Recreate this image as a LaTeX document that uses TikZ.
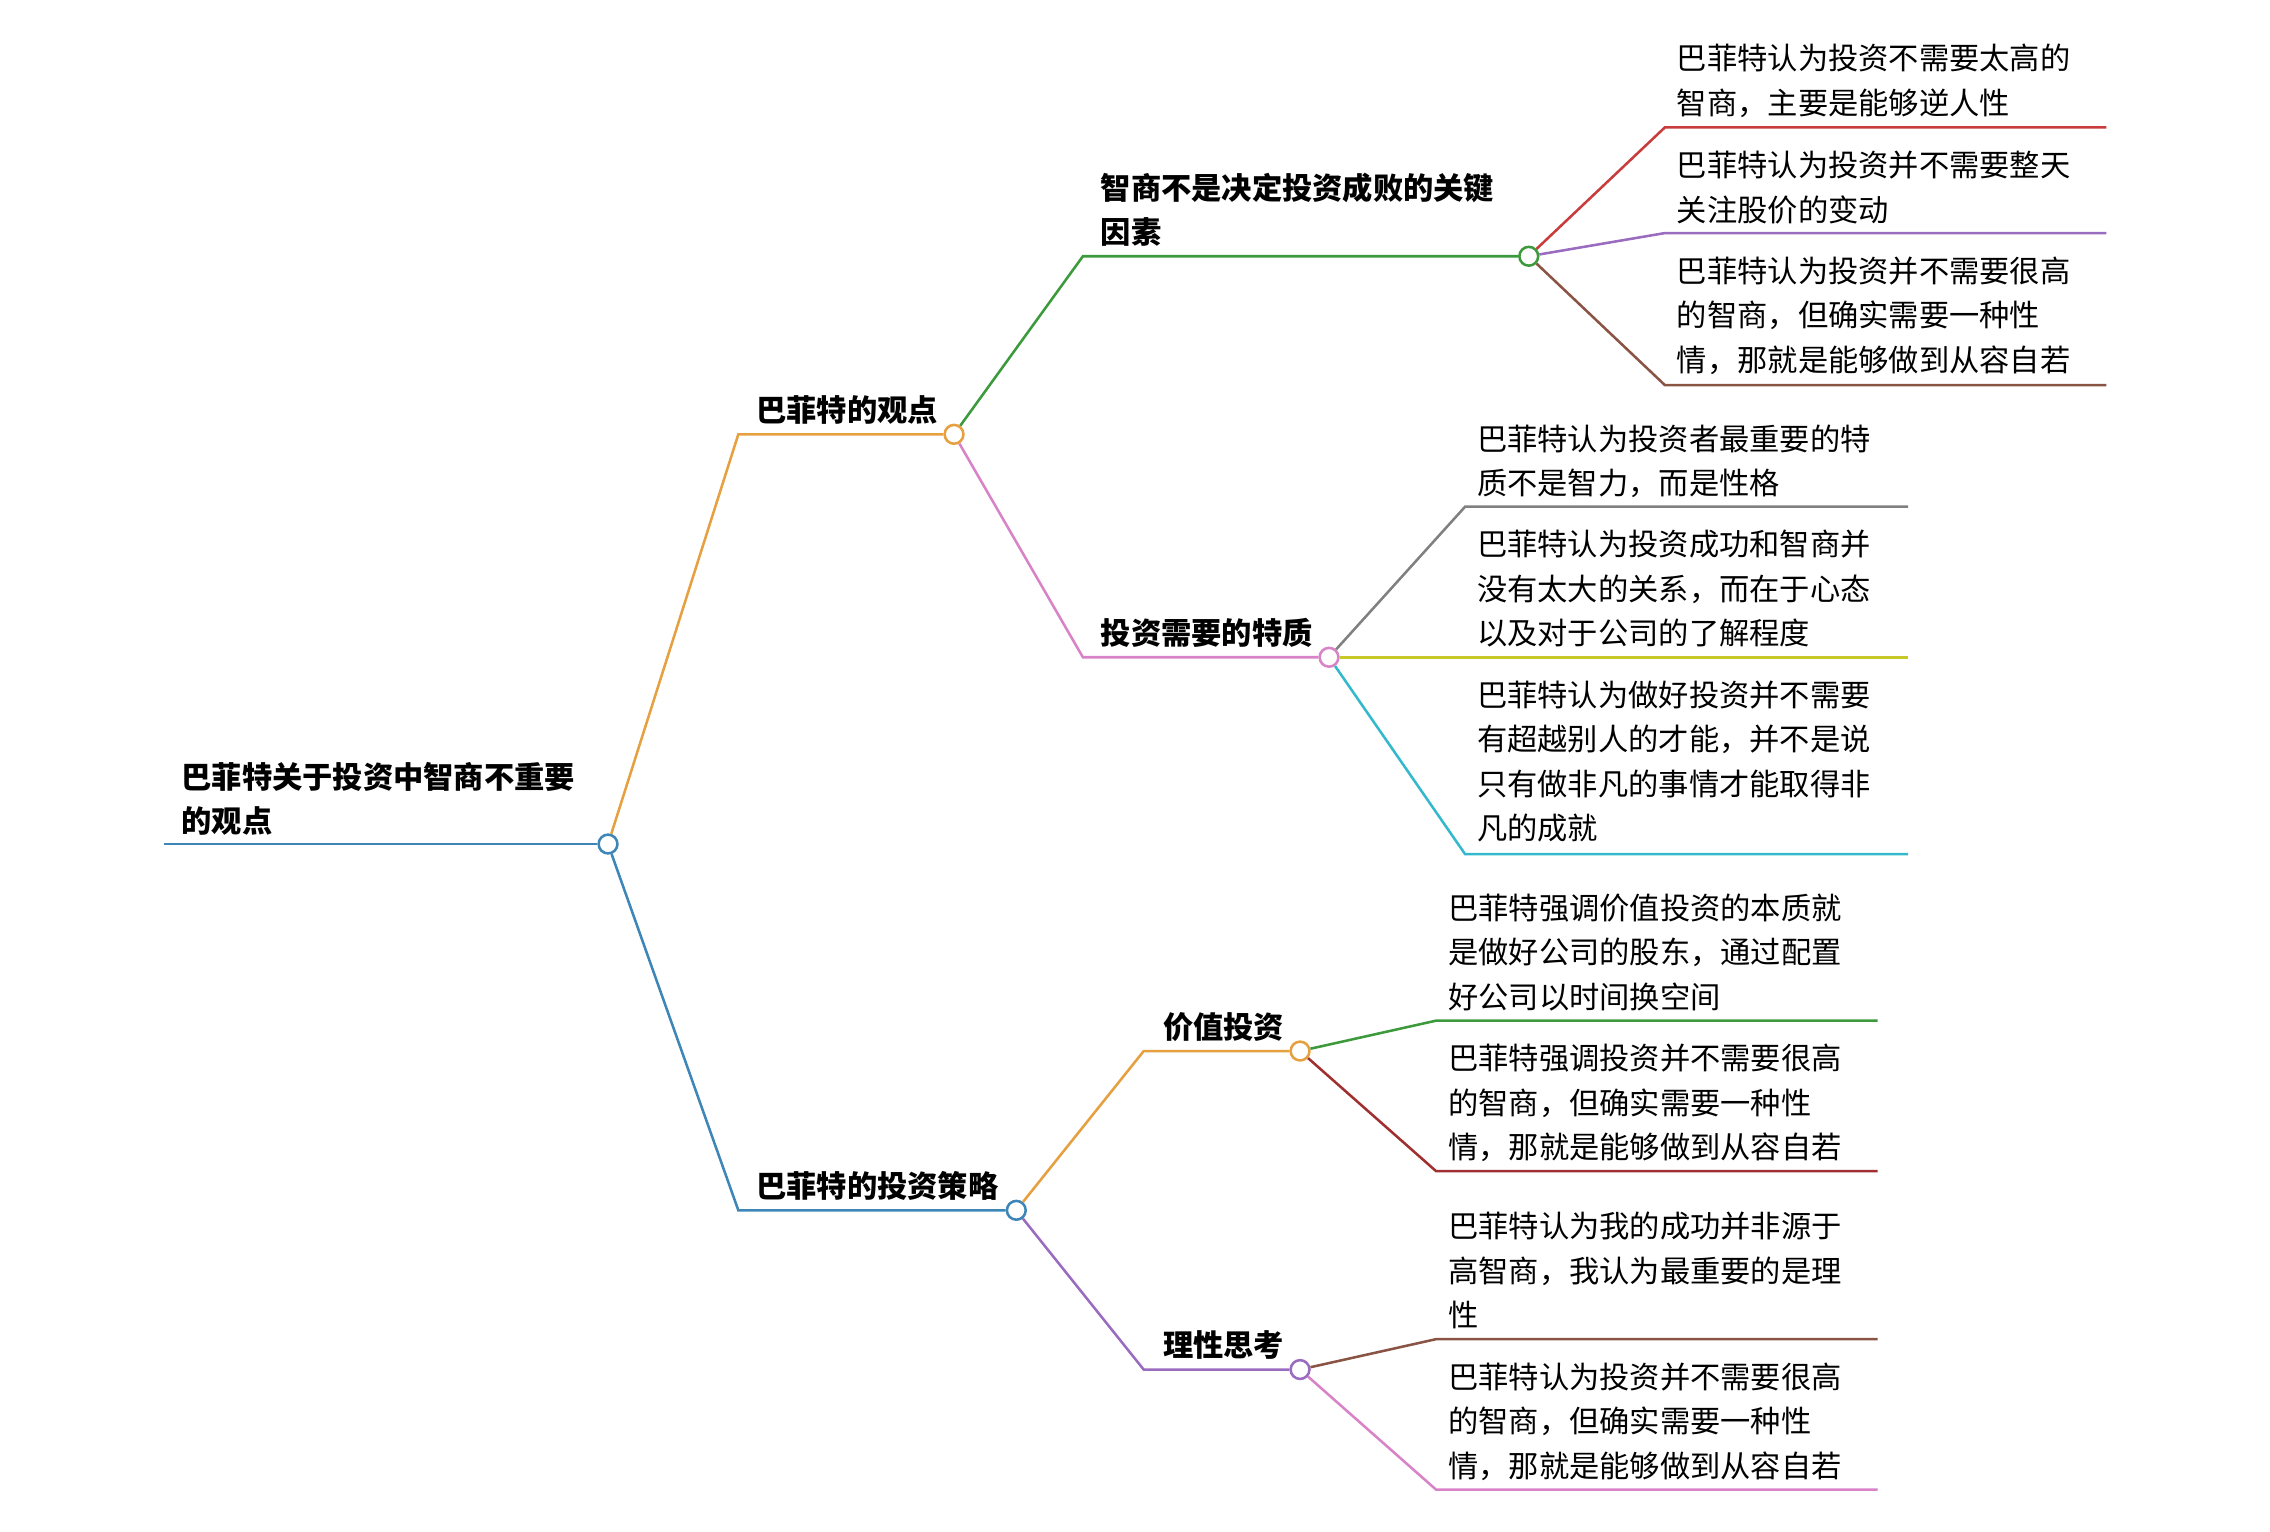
\documentclass[tikz,border=0pt]{standalone}
\usepackage{fontspec}
\setmainfont{Noto Sans CJK SC}
\usetikzlibrary{positioning}
\definecolor{cblue}{HTML}{3E86B8}
\definecolor{corange}{HTML}{E6A040}
\definecolor{cgreen}{HTML}{3C9A3C}
\definecolor{cpink}{HTML}{D882C8}
\definecolor{cred}{HTML}{C83C3C}
\definecolor{cpurple}{HTML}{9A6CC0}
\definecolor{cbrown}{HTML}{8A5444}
\definecolor{cgray}{HTML}{808080}
\definecolor{cyellow}{HTML}{C8C828}
\definecolor{ccyan}{HTML}{34B8CC}
\definecolor{cdred}{HTML}{A03030}
\tikzset{
  knob/.style={circle,draw=#1,fill=white,line width=1pt,inner sep=0pt,minimum size=0.26cm},
  branch/.style={line width=1pt,draw=#1},
  lbl/.style={anchor=north west,inner sep=0pt,align=left,font=\fontsize{11.9}{17.5}\selectfont},
  hlbl/.style={lbl,font=\fontsize{11.9}{17.5}\selectfont\bfseries},
}
\newcommand{\curveto}[4]{\draw[branch=#1] (#2) .. controls ($(#2)!0.5!(#3)$ |- #2) and ($(#2)!0.5!(#3)$ |- #3) .. (#3) -- (#4);}
\usetikzlibrary{calc}
\begin{document}
\begin{tikzpicture}[x=0.02cm,y=-0.02cm]
\useasboundingbox (0,0) rectangle (1568,1058);

% root
\node[hlbl] (rt) at (125,526) {巴菲特关于投资中智商不重要\\的观点};
\coordinate (r0) at (113,583);
\node[knob=cblue] (rk) at (420,583) {};
\draw[branch=cblue] (r0) -- (rk);

% level one
\node[hlbl] (a) at (522,273) {巴菲特的观点};
\node[knob=corange] (ak) at (659,300) {};
\coordinate (a0) at (510,300);
\curveto{corange}{rk}{a0}{ak}
\node[hlbl] (b) at (522,809) {巴菲特的投资策略};
\node[knob=cblue] (bk) at (702,836) {};
\coordinate (b0) at (510,836);
\curveto{cblue}{rk}{b0}{bk}

% level two
\node[hlbl] (aa) at (760,119) {智商不是决定投资成败的关键\\因素};
\node[knob=cgreen] (aak) at (1056,177) {};
\coordinate (aa0) at (748,177);
\curveto{cgreen}{ak}{aa0}{aak}
\node[hlbl] (ab) at (760,427) {投资需要的特质};
\node[knob=cpink] (abk) at (918,454) {};
\coordinate (ab0) at (748,454);
\curveto{cpink}{ak}{ab0}{abk}
\node[hlbl] (ba) at (803,699) {价值投资};
\node[knob=corange] (bak) at (898,726) {};
\coordinate (ba0) at (790,726);
\curveto{corange}{bk}{ba0}{bak}
\node[hlbl] (bb) at (803,919) {理性思考};
\node[knob=cpurple] (bbk) at (898,946) {};
\coordinate (bb0) at (790,946);
\curveto{cpurple}{bk}{bb0}{bbk}

% leaves of aa
\node[lbl] (l1) at (1158,30) {巴菲特认为投资不需要太高的\\智商，主要是能够逆人性};
\curveto{cred}{aak}{1150,88}{1455,88}
\node[lbl] (l2) at (1158,104) {巴菲特认为投资并不需要整天\\关注股价的变动};
\curveto{cpurple}{aak}{1150,161}{1455,161}
\node[lbl] (l3) at (1158,177) {巴菲特认为投资并不需要很高\\的智商，但确实需要一种性\\情，那就是能够做到从容自若};
\curveto{cbrown}{aak}{1150,266}{1455,266}

% leaves of ab
\node[lbl] (l4) at (1020,293) {巴菲特认为投资者最重要的特\\质不是智力，而是性格};
\curveto{cgray}{abk}{1012,350}{1318,350}
\node[lbl] (l5) at (1020,366) {巴菲特认为投资成功和智商并\\没有太大的关系，而在于心态\\以及对于公司的了解程度};
\curveto{cyellow}{abk}{1012,454}{1318,454}
\node[lbl] (l6) at (1020,470) {巴菲特认为做好投资并不需要\\有超越别人的才能，并不是说\\只有做非凡的事情才能取得非\\凡的成就};
\curveto{ccyan}{abk}{1012,590}{1318,590}

% leaves of ba
\node[lbl] (l7) at (1000,617) {巴菲特强调价值投资的本质就\\是做好公司的股东，通过配置\\好公司以时间换空间};
\curveto{cgreen}{bak}{992,705}{1297,705}
\node[lbl] (l8) at (1000,721) {巴菲特强调投资并不需要很高\\的智商，但确实需要一种性\\情，那就是能够做到从容自若};
\curveto{cdred}{bak}{992,809}{1297,809}

% leaves of bb
\node[lbl] (l9) at (1000,837) {巴菲特认为我的成功并非源于\\高智商，我认为最重要的是理\\性};
\curveto{cbrown}{bbk}{992,925}{1297,925}
\node[lbl] (l10) at (1000,941) {巴菲特认为投资并不需要很高\\的智商，但确实需要一种性\\情，那就是能够做到从容自若};
\curveto{cpink}{bbk}{992,1029}{1297,1029}
\end{tikzpicture}
\end{document}
